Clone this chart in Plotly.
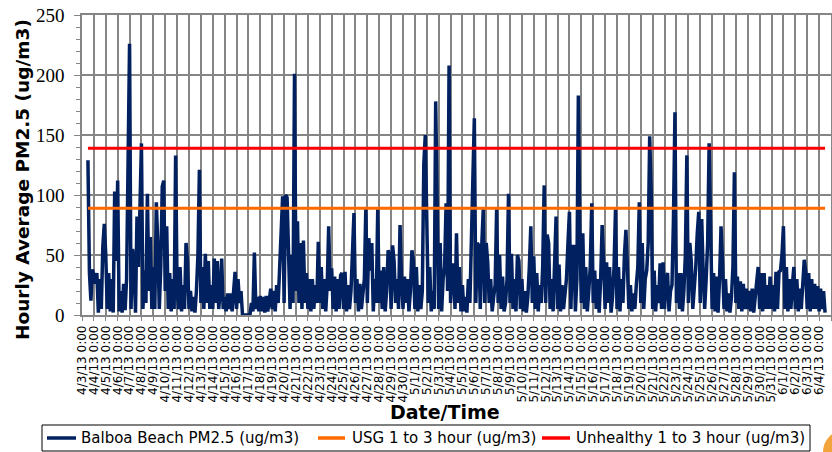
import pandas as pd
import plotly.graph_objects as go

pm25_april = [
    129, 35, 12, 38,                    # 4/3 (12h-21h)
    33, 26, 35, 2, 30, 5, 57, 76,       # 4/4
    50, 5, 35, 3, 30, 2, 103, 45,       # 4/5
    112, 3, 20, 2, 26, 4, 30, 146,      # 4/6
    226, 5, 55, 45, 2, 82, 40, 90,      # 4/7
    143, 5, 37, 10, 101, 20, 65, 5,     # 4/8
    40, 5, 94, 60, 5, 40, 107, 112,     # 4/9
    20, 74, 5, 35, 3, 30, 5, 133,       # 4/10
    20, 5, 40, 3, 25, 5, 60, 45,        # 4/11
    5, 20, 3, 15, 2, 20, 50, 121,       # 4/12
    10, 40, 5, 51, 10, 45, 5, 25,       # 4/13
    5, 47, 10, 45, 5, 20, 47, 5,        # 4/14
    15, 3, 18, 5, 18, 3, 20, 36,        # 4/15
    5, 30, 10, 20, 0, 0, 0, 0,          # 4/16
    0, 0, 10, 3, 52, 5, 15, 3,          # 4/17
    16, 3, 15, 2, 16, 3, 12, 22,        # 4/18
    5, 20, 3, 25, 10, 44, 70, 99,       # 4/19
    10, 100, 98, 45, 5, 50, 10, 201,    # 4/20
    20, 78, 10, 60, 5, 62, 10, 35,      # 4/21
    5, 30, 3, 30, 5, 25, 10, 61,        # 4/22
    10, 40, 5, 30, 3, 25, 74, 20,       # 4/23
    39, 5, 32, 3, 30, 5, 33, 35,        # 4/24
    5, 36, 3, 25, 5, 20, 50, 85,        # 4/25
    10, 30, 3, 26, 5, 20, 30, 90,       # 4/26
    10, 64, 37, 60, 3, 30, 10, 88,      # 4/27
    10, 37, 5, 40, 3, 20, 54, 50,       # 4/28
    5, 58, 45, 10, 30, 5, 75, 30,       # 4/29
    5, 32, 10, 30, 3, 20, 54, 46,       # 4/30
]
pm25_may = [
    5, 40, 3, 25, 5, 20, 126, 150,      # 5/1
    90, 10, 40, 3, 20, 5, 178, 90,      # 5/2
    5, 60, 3, 30, 40, 93, 20, 208,      # 5/3
    10, 37, 43, 5, 68, 10, 40, 3,       # 5/4
    25, 3, 15, 2, 30, 10, 60, 94,       # 5/5
    164, 10, 60, 58, 5, 58, 88, 10,     # 5/6
    60, 44, 10, 30, 3, 15, 25, 88,      # 5/7
    10, 50, 5, 32, 3, 10, 30, 101,      # 5/8
    10, 51, 5, 30, 3, 50, 45, 5,        # 5/9
    30, 3, 20, 2, 15, 40, 74, 10,       # 5/10
    49, 5, 35, 3, 25, 10, 40, 108,      # 5/11
    10, 67, 60, 5, 30, 3, 50, 82,       # 5/12
    5, 42, 3, 25, 5, 20, 30, 60,        # 5/13
    86, 5, 57, 57, 3, 30, 183, 70,      # 5/14
    10, 68, 5, 40, 3, 20, 40, 93,       # 5/15
    10, 37, 5, 30, 2, 30, 75, 45,       # 5/16
    5, 44, 10, 40, 2, 15, 40, 88,       # 5/17
    5, 40, 3, 30, 10, 50, 71, 40,       # 5/18
    5, 25, 3, 18, 5, 25, 40, 94,        # 5/19
    10, 60, 5, 30, 37, 60, 149, 104,    # 5/20
    5, 37, 3, 25, 10, 43, 5, 44,        # 5/21
    5, 30, 35, 3, 20, 25, 80, 169,      # 5/22
    10, 35, 5, 35, 3, 20, 50, 133,      # 5/23
    10, 60, 44, 5, 20, 40, 68, 86,      # 5/24
    10, 80, 35, 5, 30, 60, 143, 50,     # 5/25
    5, 35, 3, 32, 2, 30, 74, 45,        # 5/26
    5, 30, 3, 18, 2, 15, 40, 119,       # 5/27
    10, 32, 5, 28, 3, 26, 5, 22,        # 5/28
    5, 20, 3, 22, 2, 15, 25, 40,        # 5/29
    5, 35, 3, 35, 5, 25, 5, 32,         # 5/30
    5, 25, 3, 36, 5, 36, 37, 50,        # 5/31
]
pm25_june = [
    74, 5, 40, 3, 30, 5, 25, 40,        # 6/1
    5, 30, 3, 22, 5, 25, 46, 36,        # 6/2
    5, 35, 3, 30, 5, 26, 5, 24,         # 6/3
    3, 22, 5, 20, 2,                    # 6/4 (0h-12h)
]
usg_level = 89
unhealthy_level = 139

series_names = ["Balboa Beach PM2.5 (ug/m3)", "USG 1 to 3 hour (ug/m3)",
                "Unhealthy 1 to 3 hour (ug/m3)"]
series_colors = ["#002060", "#FF6A00", "#FF0000"]

pm25 = pm25_april + pm25_may + pm25_june
times = pd.date_range("2013-04-03 12:00", periods=len(pm25), freq="3h")
ends = [times[0], times[-1]]

fig = go.Figure()
fig.add_trace(go.Scatter(x=times, y=pm25, mode="lines", name=series_names[0],
                         line=dict(color=series_colors[0], width=3.5)))
fig.add_trace(go.Scatter(x=ends, y=[usg_level] * 2, mode="lines", name=series_names[1],
                         line=dict(color=series_colors[1], width=3)))
fig.add_trace(go.Scatter(x=ends, y=[unhealthy_level] * 2, mode="lines", name=series_names[2],
                         line=dict(color=series_colors[2], width=3)))

# ---- layout helpers (pixel -> paper) ----
W, H = 832, 452
L, R, T, B = 82, 1, 15, 137
pw, ph = W - L - R, H - T - B


def px(x):
    return (x - L) / pw


def py(y):
    return (H - B - y) / ph


shapes = []
annotations = []

# manual legend box
shapes.append(dict(type="rect", xref="paper", yref="paper", x0=px(42), x1=px(810),
                   y0=py(451), y1=py(425), line=dict(color="black", width=1),
                   fillcolor="white", layer="above"))
legend_lines = [(47, 76), (318, 345), (542, 570)]
legend_text_x = [79, 350, 574]
for (a, b), tx, name, col in zip(legend_lines, legend_text_x, series_names, series_colors):
    shapes.append(dict(type="line", xref="paper", yref="paper", x0=px(a), x1=px(b),
                       y0=py(438), y1=py(438), line=dict(color=col, width=3.5), layer="above"))
    annotations.append(dict(text=name, xref="paper", yref="paper", x=px(tx), y=py(438),
                            xanchor="left", yanchor="middle", showarrow=False,
                            font=dict(family="DejaVu Sans", size=15, color="black")))

annotations += [
    dict(text="<b>Hourly Average PM2.5 (ug/m3)</b>", textangle=-90,
         xref="paper", yref="paper", x=px(22), y=py(180), xanchor="center", yanchor="middle",
         showarrow=False, font=dict(family="DejaVu Sans", size=18.5, color="black")),
    dict(text="<b>Date/Time</b>", xref="paper", yref="paper",
         x=px(445), y=py(412), xanchor="center", yanchor="middle",
         showarrow=False, font=dict(family="DejaVu Sans", size=19, color="black")),
]

# decorative corner mark
shapes.append(dict(type="circle", xref="paper", yref="paper", layer="above",
                   x0=px(823), x1=px(867), y0=py(474), y1=py(430),
                   fillcolor="#F2A33A", line=dict(width=0)))

grid = "#858585"
fig.update_layout(
    width=W, height=H,
    margin=dict(l=L, r=R, t=T, b=B, autoexpand=False),
    paper_bgcolor="white", plot_bgcolor="white",
    showlegend=False,
    xaxis=dict(
        type="date", range=["2013-04-03", "2013-06-05"],
        tick0="2013-04-03", dtick=86400000,
        tickformat="%-m/%-d/%y %-H:%M", tickangle=-90,
        tickfont=dict(family="DejaVu Sans", size=12, color="black"),
        showgrid=True, gridcolor=grid, gridwidth=1.5,
        showline=True, linecolor=grid, linewidth=1.5, mirror=True,
        ticks="outside", ticklen=4, tickcolor=grid,
        zeroline=False, automargin=False,
    ),
    yaxis=dict(
        range=[0, 250], dtick=50,
        tickfont=dict(family="Liberation Serif, DejaVu Serif, serif", size=19, color="black"),
        showgrid=True, gridcolor=grid, gridwidth=1.5,
        showline=True, linecolor=grid, linewidth=1.5, mirror=True,
        ticks="outside", ticklen=6, tickcolor=grid,
        minor=dict(dtick=10, ticks="outside", ticklen=4, tickcolor=grid, showgrid=False),
        zeroline=False, automargin=False, ticklabelstandoff=6,
    ),
    annotations=annotations,
    shapes=shapes,
)

fig.write_html("out.html", config={"displayModeBar": False},
               post_script="document.body.style.margin='0';")
